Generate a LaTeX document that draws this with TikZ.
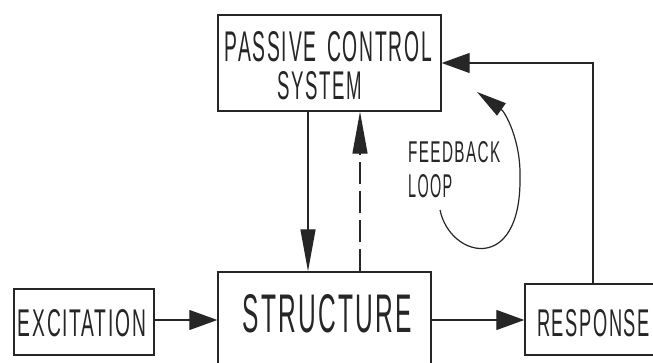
\documentclass[tikz,border=0pt]{standalone}
\usepackage{fontspec}
\setmainfont[LetterSpace=9]{Liberation Sans}
\usepackage{graphicx}
\usetikzlibrary{arrows.meta}
\newcommand{\fittext}[3]{\resizebox{#1pt}{#2pt}{#3}}
\begin{document}
\begin{tikzpicture}[x=1pt,y=-1pt,
  blk/.style={draw=black!85, line width=1.4pt, inner sep=0pt, minimum width=#1},
  txt/.style={inner sep=0pt, text=black!85},
  conn/.style={draw=black!85, line width=1.2pt},
  arrH/.style={conn, -{Triangle[length=28pt,width=20pt]}},
  arrV/.style={conn, -{Triangle[length=42pt,width=15pt]}},
  arrF/.style={conn, -{Triangle[length=30pt,width=15pt]}},
]
\clip (0,0) rectangle (653,363);
\fill[white] (0,0) rectangle (653,363);
% boxes
\node[blk=223pt, minimum height=96pt] (pcs) at (329.5,63) {};
\node[blk=213pt, minimum height=100pt] (str) at (324.5,322) {};
\node[blk=140pt, minimum height=66pt] (exc) at (84,322) {};
\node[blk=140pt, minimum height=71pt] (res) at (595,319.5) {};
% texts
\node[txt] (t1) at (328.5,47) {\fittext{207}{30}{PASSIVE\hspace{0.55em}CONTROL}};
\node[txt] (t2) at (319.5,86) {\fittext{85}{28}{SYSTEM}};
\node[txt] (t3) at (327.5,314) {\fittext{169}{38}{STRUCTURE}};
\node[txt] (t4) at (82,323.5) {\fittext{128}{27}{EXCITATION}};
\node[txt] (t5) at (593.5,323.5) {\fittext{113}{27}{RESPONSE}};
\node[txt, anchor=west] (t6) at (408,152.5) {\fittext{92}{21}{FEEDBACK}};
\node[txt, anchor=west] (t7) at (408,186.5) {\fittext{44}{23}{LOOP}};
% helper coordinates
\coordinate (xd) at (308,0);
\coordinate (xu) at (360,0);
\coordinate (xr) at (593,0);
\coordinate (hy) at (0,320);
% connectors
\draw[arrH] (exc.east |- hy) -- (str.west |- hy);
\draw[arrH] (str.east |- hy) -- (res.west |- hy);
\draw[arrV] (pcs.south -| xd) -- (str.north -| xd);
\draw[arrV, dash pattern=on 22pt off 7pt] (str.north -| xu) -- (pcs.south -| xu);
\draw[arrH] (res.north -| xr) |- (pcs.east);
% feedback loop
\coordinate (fa) at (440,210);
\coordinate (fb) at (520,178);
\coordinate (fc) at (477,92);
\draw[arrF] (fa) .. controls (450,258) and (521,275) .. (fb)
  .. controls (521,140) and (505,112) .. (fc);
\end{tikzpicture}
\end{document}
